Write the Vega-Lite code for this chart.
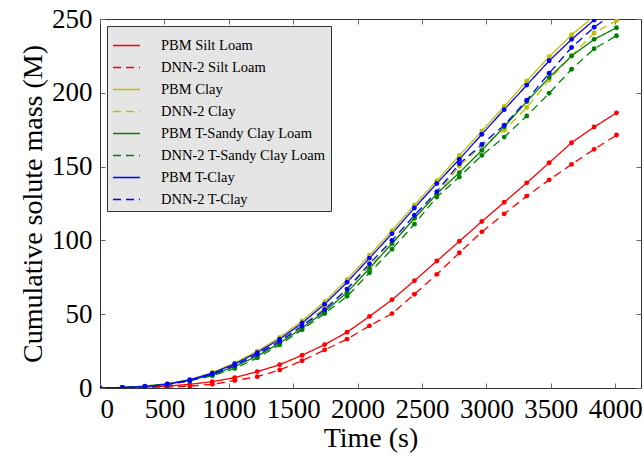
{
  "$schema": "https://vega.github.io/schema/vega-lite/v6.json",
  "autosize": {"type": "none"},
  "width": 541,
  "height": 369,
  "padding": {"left": 100, "top": 19, "right": 3, "bottom": 70},
  "background": "white",
  "data": {
    "values": [
      {"t": 0, "PBM Silt Loam": 0, "DNN-2 Silt Loam": 0, "PBM Clay": 0, "DNN-2 Clay": 0, "PBM T-Sandy Clay Loam": 0, "DNN-2 T-Sandy Clay Loam": 0, "PBM T-Clay": 0, "DNN-2 T-Clay": 0},
      {"t": 174, "PBM Silt Loam": 0.2, "DNN-2 Silt Loam": 0.1, "PBM Clay": 0.3, "DNN-2 Clay": 0.3, "PBM T-Sandy Clay Loam": 0.4, "DNN-2 T-Sandy Clay Loam": 0.3, "PBM T-Clay": 0.3, "DNN-2 T-Clay": 0.2},
      {"t": 349, "PBM Silt Loam": 0.6, "DNN-2 Silt Loam": 0.3, "PBM Clay": 1.1, "DNN-2 Clay": 1.0, "PBM T-Sandy Clay Loam": 1.3, "DNN-2 T-Sandy Clay Loam": 1.0, "PBM T-Clay": 1.0, "DNN-2 T-Clay": 0.9},
      {"t": 523, "PBM Silt Loam": 1.3, "DNN-2 Silt Loam": 0.7, "PBM Clay": 2.7, "DNN-2 Clay": 2.5, "PBM T-Sandy Clay Loam": 2.8, "DNN-2 T-Sandy Clay Loam": 2.4, "PBM T-Clay": 2.5, "DNN-2 T-Clay": 2.3},
      {"t": 697, "PBM Silt Loam": 2.5, "DNN-2 Silt Loam": 1.3, "PBM Clay": 5.8, "DNN-2 Clay": 5.3, "PBM T-Sandy Clay Loam": 5.3, "DNN-2 T-Sandy Clay Loam": 4.8, "PBM T-Clay": 5.5, "DNN-2 T-Clay": 5.0},
      {"t": 872, "PBM Silt Loam": 4.3, "DNN-2 Silt Loam": 2.5, "PBM Clay": 10.5, "DNN-2 Clay": 9.6, "PBM T-Sandy Clay Loam": 8.8, "DNN-2 T-Sandy Clay Loam": 8.3, "PBM T-Clay": 10.0, "DNN-2 T-Clay": 9.3},
      {"t": 1046, "PBM Silt Loam": 7.0, "DNN-2 Silt Loam": 5.0, "PBM Clay": 17.0, "DNN-2 Clay": 15.6, "PBM T-Sandy Clay Loam": 14.5, "DNN-2 T-Sandy Clay Loam": 13.2, "PBM T-Clay": 16.3, "DNN-2 T-Clay": 15.2},
      {"t": 1221, "PBM Silt Loam": 11.1, "DNN-2 Silt Loam": 7.7, "PBM Clay": 25.0, "DNN-2 Clay": 23.2, "PBM T-Sandy Clay Loam": 21.7, "DNN-2 T-Sandy Clay Loam": 20.4, "PBM T-Clay": 24.0, "DNN-2 T-Clay": 22.8},
      {"t": 1395, "PBM Silt Loam": 15.8, "DNN-2 Silt Loam": 12.2, "PBM Clay": 34.3, "DNN-2 Clay": 32.0, "PBM T-Sandy Clay Loam": 30.4, "DNN-2 T-Sandy Clay Loam": 29.2, "PBM T-Clay": 33.1, "DNN-2 T-Clay": 31.5},
      {"t": 1569, "PBM Silt Loam": 22.2, "DNN-2 Silt Loam": 18.5, "PBM Clay": 45.5, "DNN-2 Clay": 42.5, "PBM T-Sandy Clay Loam": 40.6, "DNN-2 T-Sandy Clay Loam": 39.5, "PBM T-Clay": 44.0, "DNN-2 T-Clay": 42.0},
      {"t": 1744, "PBM Silt Loam": 29.4, "DNN-2 Silt Loam": 25.8, "PBM Clay": 58.5, "DNN-2 Clay": 54.0, "PBM T-Sandy Clay Loam": 51.8, "DNN-2 T-Sandy Clay Loam": 50.4, "PBM T-Clay": 56.8, "DNN-2 T-Clay": 53.0},
      {"t": 1918, "PBM Silt Loam": 37.8, "DNN-2 Silt Loam": 33.1, "PBM Clay": 73.5, "DNN-2 Clay": 67.0, "PBM T-Sandy Clay Loam": 64.8, "DNN-2 T-Sandy Clay Loam": 62.1, "PBM T-Clay": 71.6, "DNN-2 T-Clay": 67.0},
      {"t": 2092, "PBM Silt Loam": 48.5, "DNN-2 Silt Loam": 42.1, "PBM Clay": 90.0, "DNN-2 Clay": 82.5, "PBM T-Sandy Clay Loam": 81.0, "DNN-2 T-Sandy Clay Loam": 78.0, "PBM T-Clay": 88.0, "DNN-2 T-Clay": 84.2},
      {"t": 2267, "PBM Silt Loam": 59.8, "DNN-2 Silt Loam": 50.4, "PBM Clay": 106.5, "DNN-2 Clay": 98.0, "PBM T-Sandy Clay Loam": 97.8, "DNN-2 T-Sandy Clay Loam": 94.0, "PBM T-Clay": 104.6, "DNN-2 T-Clay": 100.0},
      {"t": 2441, "PBM Silt Loam": 72.7, "DNN-2 Silt Loam": 63.5, "PBM Clay": 124.0, "DNN-2 Clay": 115.0, "PBM T-Sandy Clay Loam": 115.0, "DNN-2 T-Sandy Clay Loam": 111.0, "PBM T-Clay": 122.0, "DNN-2 T-Clay": 117.0},
      {"t": 2615, "PBM Silt Loam": 86.0, "DNN-2 Silt Loam": 77.0, "PBM Clay": 140.5, "DNN-2 Clay": 131.0, "PBM T-Sandy Clay Loam": 131.6, "DNN-2 T-Sandy Clay Loam": 129.4, "PBM T-Clay": 138.6, "DNN-2 T-Clay": 133.0},
      {"t": 2790, "PBM Silt Loam": 99.4, "DNN-2 Silt Loam": 91.6, "PBM Clay": 157.5, "DNN-2 Clay": 150.4, "PBM T-Sandy Clay Loam": 145.9, "DNN-2 T-Sandy Clay Loam": 143.0, "PBM T-Clay": 155.0, "DNN-2 T-Clay": 152.0},
      {"t": 2964, "PBM Silt Loam": 112.8, "DNN-2 Silt Loam": 105.8, "PBM Clay": 174.1, "DNN-2 Clay": 164.0, "PBM T-Sandy Clay Loam": 161.0, "DNN-2 T-Sandy Clay Loam": 157.6, "PBM T-Clay": 171.9, "DNN-2 T-Clay": 165.0},
      {"t": 3138, "PBM Silt Loam": 125.8, "DNN-2 Silt Loam": 118.0, "PBM Clay": 190.7, "DNN-2 Clay": 174.6, "PBM T-Sandy Clay Loam": 177.0, "DNN-2 T-Sandy Clay Loam": 170.0, "PBM T-Clay": 188.6, "DNN-2 T-Clay": 178.0},
      {"t": 3313, "PBM Silt Loam": 139.0, "DNN-2 Silt Loam": 130.0, "PBM Clay": 208.1, "DNN-2 Clay": 190.0, "PBM T-Sandy Clay Loam": 194.0, "DNN-2 T-Sandy Clay Loam": 184.3, "PBM T-Clay": 205.2, "DNN-2 T-Clay": 195.0},
      {"t": 3487, "PBM Silt Loam": 152.6, "DNN-2 Silt Loam": 141.0, "PBM Clay": 224.4, "DNN-2 Clay": 208.6, "PBM T-Sandy Clay Loam": 210.4, "DNN-2 T-Sandy Clay Loam": 199.7, "PBM T-Clay": 221.7, "DNN-2 T-Clay": 213.3},
      {"t": 3661, "PBM Silt Loam": 166.2, "DNN-2 Silt Loam": 151.5, "PBM Clay": 239.3, "DNN-2 Clay": 225.1, "PBM T-Sandy Clay Loam": 224.9, "DNN-2 T-Sandy Clay Loam": 216.0, "PBM T-Clay": 236.2, "DNN-2 T-Clay": 230.7},
      {"t": 3836, "PBM Silt Loam": 176.8, "DNN-2 Silt Loam": 161.7, "PBM Clay": 251.8, "DNN-2 Clay": 240.5, "PBM T-Sandy Clay Loam": 236.2, "DNN-2 T-Sandy Clay Loam": 229.8, "PBM T-Clay": 249.3, "DNN-2 T-Clay": 244.4},
      {"t": 4010, "PBM Silt Loam": 186.4, "DNN-2 Silt Loam": 171.4, "PBM Clay": 262.0, "DNN-2 Clay": 249.0, "PBM T-Sandy Clay Loam": 244.1, "DNN-2 T-Sandy Clay Loam": 238.7, "PBM T-Clay": 260.0, "DNN-2 T-Clay": 255.0}
    ]
  },
  "transform": [
    {"fold": ["PBM Silt Loam", "DNN-2 Silt Loam", "PBM Clay", "DNN-2 Clay", "PBM T-Sandy Clay Loam", "DNN-2 T-Sandy Clay Loam", "PBM T-Clay", "DNN-2 T-Clay"], "as": ["series", "v"]}
  ],
  "layer": [
    {
      "mark": {"type": "line", "strokeWidth": 1.3, "clip": true, "point": {"filled": true, "size": 24, "opacity": 1}},
      "encoding": {
        "x": {"field": "t", "type": "quantitative", "scale": {"domain": [0, 4200], "nice": false},
          "axis": {"title": "Time (s)", "format": "d", "values": [0, 500, 1000, 1500, 2000, 2500, 3000, 3500, 4000], "labelPadding": 13, "titlePadding": 2}},
        "y": {"field": "v", "type": "quantitative", "scale": {"domain": [0, 250], "nice": false},
          "axis": {"title": "Cumulative solute mass (M)", "format": "d", "values": [0, 50, 100, 150, 200, 250], "labelPadding": 13, "titlePadding": 4}},
        "color": {"field": "series", "type": "nominal",
          "scale": {"domain": ["PBM Silt Loam", "DNN-2 Silt Loam", "PBM Clay", "DNN-2 Clay", "PBM T-Sandy Clay Loam", "DNN-2 T-Sandy Clay Loam", "PBM T-Clay", "DNN-2 T-Clay"],
            "range": ["#ff0000", "#ff0000", "#bfbf00", "#bfbf00", "#008000", "#008000", "#0000ff", "#0000ff"]},
          "legend": {"title": null}},
        "strokeDash": {"field": "series", "type": "nominal",
          "scale": {"domain": ["PBM Silt Loam", "DNN-2 Silt Loam", "PBM Clay", "DNN-2 Clay", "PBM T-Sandy Clay Loam", "DNN-2 T-Sandy Clay Loam", "PBM T-Clay", "DNN-2 T-Clay"],
            "range": [[1, 0], [8, 5], [1, 0], [8, 5], [1, 0], [8, 5], [1, 0], [8, 5]]},
          "legend": {"title": null}},
        "order": {"field": "t", "type": "quantitative"}
      }
    },
    {
      "mark": {"type": "point", "opacity": 0},
      "encoding": {
        "x": {"field": "t", "type": "quantitative", "axis": {"orient": "top", "labels": false, "title": null, "values": [0, 500, 1000, 1500, 2000, 2500, 3000, 3500, 4000]}},
        "y": {"field": "v", "type": "quantitative", "axis": {"orient": "right", "labels": false, "title": null, "values": [0, 50, 100, 150, 200, 250]}}
      }
    }
  ],
  "resolve": {"axis": {"x": "independent", "y": "independent"}},
  "config": {
    "view": {"stroke": "#333", "strokeWidth": 1},
    "axis": {"labelFont": "Liberation Serif", "titleFont": "Liberation Serif", "labelFontSize": 27, "titleFontSize": 28, "titleFontWeight": "normal", "labelColor": "#000", "titleColor": "#000", "domain": false, "grid": false, "tickSize": -5, "tickColor": "#666"},
    "legend": {"orient": "top-left", "offset": 7, "fillColor": "#e5e5e5", "strokeColor": "#333", "padding": 5, "labelFont": "Liberation Serif", "labelFontSize": 14.5, "labelColor": "#000", "symbolType": "stroke", "symbolSize": 729, "symbolStrokeWidth": 1.3, "rowPadding": 1, "labelOffset": 20, "labelLimit": 300}
  }
}
